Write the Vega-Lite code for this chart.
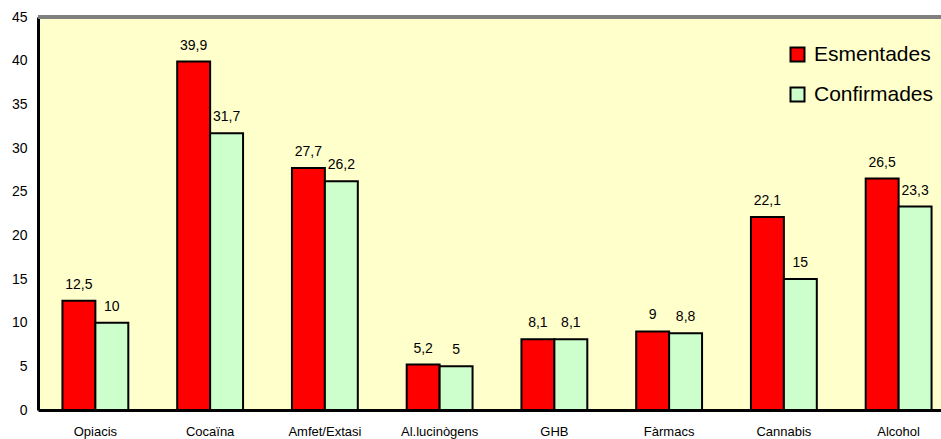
{
  "$schema": "https://vega.github.io/schema/vega-lite/v6.json",
  "width": 903,
  "height": 393,
  "autosize": {"type": "none"},
  "padding": {"left": 38, "top": 17, "right": 0, "bottom": 29},
  "config": {
    "font": "Liberation Sans",
    "view": {"fill": "#FFFFCC", "stroke": null},
    "locale": {"number": {"decimal": ",", "thousands": ".", "grouping": [3], "currency": ["", " €"]}}
  },
  "data": {
    "values": [
      {"substancia": "Opiacis", "tipus": "Esmentades", "valor": 12.5},
      {"substancia": "Opiacis", "tipus": "Confirmades", "valor": 10},
      {"substancia": "Cocaïna", "tipus": "Esmentades", "valor": 39.9},
      {"substancia": "Cocaïna", "tipus": "Confirmades", "valor": 31.7},
      {"substancia": "Amfet/Extasi", "tipus": "Esmentades", "valor": 27.7},
      {"substancia": "Amfet/Extasi", "tipus": "Confirmades", "valor": 26.2},
      {"substancia": "Al.lucinògens", "tipus": "Esmentades", "valor": 5.2},
      {"substancia": "Al.lucinògens", "tipus": "Confirmades", "valor": 5},
      {"substancia": "GHB", "tipus": "Esmentades", "valor": 8.1},
      {"substancia": "GHB", "tipus": "Confirmades", "valor": 8.1},
      {"substancia": "Fàrmacs", "tipus": "Esmentades", "valor": 9},
      {"substancia": "Fàrmacs", "tipus": "Confirmades", "valor": 8.8},
      {"substancia": "Cannabis", "tipus": "Esmentades", "valor": 22.1},
      {"substancia": "Cannabis", "tipus": "Confirmades", "valor": 15},
      {"substancia": "Alcohol", "tipus": "Esmentades", "valor": 26.5},
      {"substancia": "Alcohol", "tipus": "Confirmades", "valor": 23.3}
    ]
  },
  "encoding": {
    "x": {
      "field": "substancia", "type": "nominal", "sort": null,
      "scale": {"range": [0, 918], "paddingInner": 0.426, "paddingOuter": 0.213},
      "axis": {"title": null, "labelAngle": 0, "domainColor": "black", "domainWidth": 3, "ticks": false, "labelFontSize": 13, "labelPadding": 15, "labelColor": "black"}
    },
    "xOffset": {"field": "tipus", "type": "nominal", "sort": ["Esmentades", "Confirmades"], "scale": {"paddingInner": 0}},
    "y": {
      "field": "valor", "type": "quantitative",
      "scale": {"domain": [0, 45]},
      "axis": {"title": null, "values": [0, 5, 10, 15, 20, 25, 30, 35, 40, 45], "grid": false, "ticks": false, "domainColor": "black", "domainWidth": 3, "labelFontSize": 14, "labelPadding": 11, "labelColor": "black"}
    }
  },
  "layer": [
    {
      "mark": {"type": "rule", "color": "#808080", "strokeWidth": 3},
      "encoding": {"y": {"datum": 45}, "x": null, "xOffset": null}
    },
    {
      "mark": {"type": "bar", "stroke": "black", "strokeWidth": 2},
      "encoding": {
        "color": {
          "field": "tipus", "type": "nominal",
          "scale": {"domain": ["Esmentades", "Confirmades"], "range": ["#FF0000", "#CCFFCC"]},
          "legend": {"title": null, "orient": "none", "legendX": 749, "legendY": 27, "symbolType": "square", "symbolSize": 196, "symbolStrokeColor": "black", "symbolStrokeWidth": 2, "symbolOpacity": 1, "labelFontSize": 21, "labelColor": "black", "rowPadding": 17, "labelOffset": 6}
        }
      }
    },
    {
      "mark": {"type": "text", "baseline": "alphabetic", "dy": -12, "fontSize": 14, "color": "black"},
      "encoding": {
        "text": {"field": "valor", "type": "quantitative", "format": "~g"}
      }
    }
  ]
}
